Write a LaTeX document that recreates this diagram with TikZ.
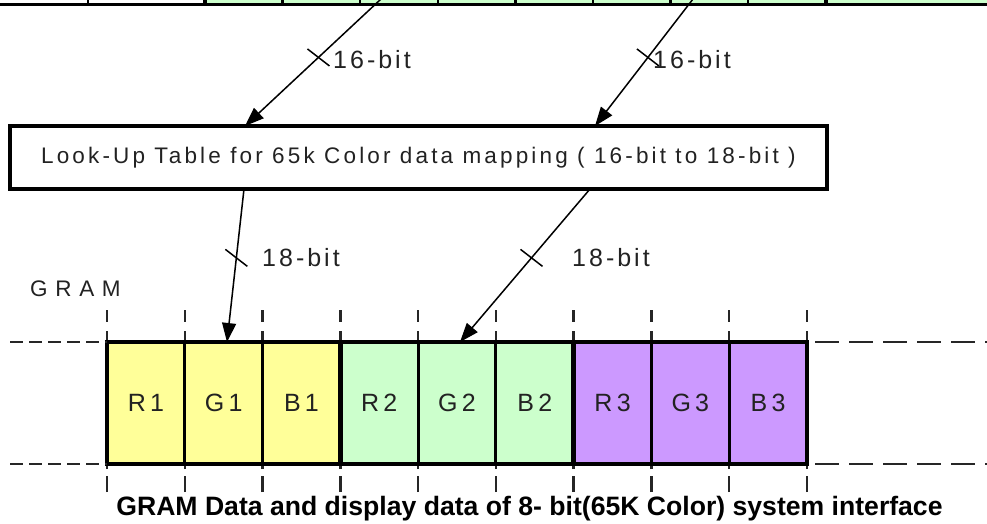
\documentclass[tikz,border=0pt]{standalone}
\usepackage{fontspec}
\setmainfont{Liberation Sans}
\newfontfamily\lutfont[LetterSpace=14]{Liberation Sans}
\newfontfamily\bitfont[LetterSpace=12]{Liberation Sans}
\newfontfamily\gramfont[LetterSpace=34]{Liberation Sans}
\newfontfamily\cellfont[LetterSpace=17]{Liberation Sans}
\usetikzlibrary{arrows.meta}
\definecolor{cyel}{RGB}{255,255,153}
\definecolor{cgrn}{RGB}{204,255,204}
\definecolor{cpur}{RGB}{204,153,255}
\definecolor{txt}{RGB}{34,34,34}
\tikzset{
  cellbox/.style={draw=black, line width=3pt, inner sep=0pt, outer sep=0pt,
    minimum width=77.78pt, minimum height=122pt, anchor=north west, text=txt,
    font=\cellfont\fontsize{25}{29}\selectfont},
  stripbox/.style={draw=black, line width=2.5pt, fill=cgrn, inner sep=0pt, outer sep=0pt,
    minimum height=30pt, anchor=south west},
  lutbox/.style={draw=black, line width=3.2pt, inner sep=0pt, outer sep=0pt,
    minimum width=817pt, minimum height=63pt, text=txt,
    font=\lutfont\fontsize{22.5}{26}\selectfont},
  bitlabel/.style={anchor=base west, inner sep=0pt, text=txt,
    font=\bitfont\fontsize{25}{29}\selectfont},
  arr/.style={line width=1.5pt, -{Triangle[length=19pt,width=14pt]}},
  busmark/.style={line width=1.5pt},
  guideL/.style={line width=2.4pt, draw=black!85, dash pattern=on 13pt off 6pt},
  guideR/.style={line width=2.4pt, draw=black!85, dash pattern=on 24pt off 10pt},
  tickup/.style={line width=2.4pt, draw=black!85, dash pattern=on 12pt off 9pt},
  tickdn/.style={line width=2.4pt, draw=black!85, dash pattern=on 16pt off 7pt},
}
\begin{document}
\begin{tikzpicture}[x=1pt,y=-1pt]
\useasboundingbox (0,0) rectangle (987,523);
\clip (0,0) rectangle (987,523);
\fill[white] (0,0) rectangle (987,523);

% top strip
\node[stripbox, fill=white, minimum width=93pt] (t0) at (-5,4.5) {};
\node[stripbox, fill=white, minimum width=117pt] (t1) at (88,4.5) {};
\foreach \i in {1,...,8} {
  \node[stripbox, minimum width=77.6pt] (tg\i) at ({205+77.6*(\i-1)},4.5) {};
}
\node[stripbox, minimum width=180pt] (tg9) at (825.8,4.5) {};
\draw[line width=3.5pt] (t1.south east) -- (t1.north east);
\draw[line width=4pt] (tg9.south west) -- (tg9.north west);
\draw[line width=3.8pt] (t0.south west) -- (tg9.south east);

% look-up table
\node[lutbox] (lut) at (418.5,157.5) {Look-Up Table for 65k Color data mapping ( 16-bit to 18-bit )};

% GRAM label
\node[anchor=base west, inner sep=0pt, text=txt, font=\gramfont\fontsize{22.5}{26}\selectfont] (gram) at (30,296) {GRAM};

% guide lines (behind cells)
\coordinate (hl1) at (10,342);
\coordinate (hl2) at (10,464);
\coordinate (hr1) at (990,342);
\coordinate (hr2) at (990,464);
\foreach \i in {0,...,9} {
  \draw[tickup] ({107+77.78*\i},310) -- ({107+77.78*\i},343);
  \draw[tickdn] ({107+77.78*\i},492) -- ({107+77.78*\i},463);
}

% GRAM cells
\node[cellbox, fill=cyel] (g1) at (107,342) {R1};
\node[cellbox, fill=cyel] (g2) at (184.78,342) {G1};
\node[cellbox, fill=cyel] (g3) at (262.56,342) {B1};
\node[cellbox, fill=cgrn] (g4) at (340.33,342) {R2};
\node[cellbox, fill=cgrn] (g5) at (418.11,342) {G2};
\node[cellbox, fill=cgrn] (g6) at (495.89,342) {B2};
\node[cellbox, fill=cpur] (g7) at (573.67,342) {R3};
\node[cellbox, fill=cpur] (g8) at (651.44,342) {G3};
\node[cellbox, fill=cpur] (g9) at (729.22,342) {B3};
\draw[line width=4.4pt] (g1.north west) rectangle (g9.south east);
\draw[line width=4.4pt] (g3.north east) -- (g3.south east);
\draw[line width=4.4pt] (g6.north east) -- (g6.south east);

\draw[guideL] (hl1) -- (g1.north west);
\draw[guideL] (hl2) -- (g1.south west);
\draw[guideR] (g9.north east) ++(8,0) -- (hr1);
\draw[guideR] (g9.south east) ++(8,0) -- (hr2);

% connectors
\coordinate (s1) at (381,-1);
\coordinate (s2) at (693,-1);
\draw[arr] (s1) -- coordinate[pos=0.46] (x1) (245,0 |- lut.north);
\draw[arr] (s2) -- coordinate[pos=0.46] (x2) (595,0 |- lut.north);
\draw[arr] (244,0 |- lut.south) -- coordinate[pos=0.45] (x3) (227,0 |- g2.north);
\draw[arr] (590,0 |- lut.south) -- coordinate[pos=0.45] (x4) (460,0 |- g5.north);
\foreach \c in {x1,x2,x3,x4} {
  \draw[busmark] (\c) ++(-11,-8.5) -- ++(22,17);
}

% bus width labels
\node[bitlabel] (b1) at (333,68) {16-bit};
\node[bitlabel] (b2) at (653,68) {16-bit};
\node[bitlabel] (b3) at (262,266) {18-bit};
\node[bitlabel] (b4) at (572,266) {18-bit};

% caption
\node[anchor=base, inner sep=0pt, font=\bfseries\fontsize{26.6}{30}\selectfont] (cap) at (529.5,515)
  {GRAM Data and display data of 8- bit(65K Color) system interface};
\end{tikzpicture}
\end{document}
